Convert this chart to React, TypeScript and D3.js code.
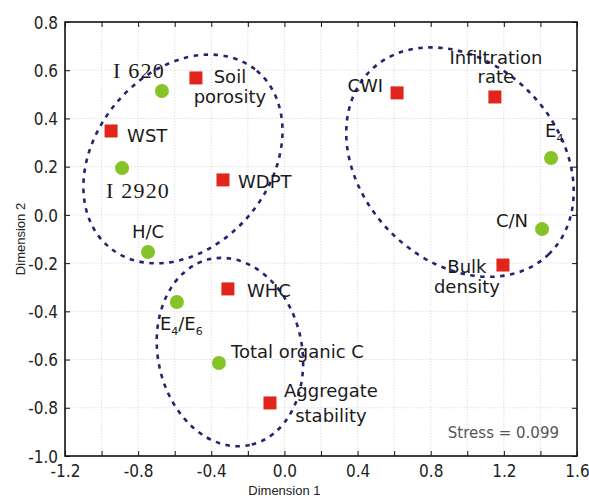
import React, { useEffect, useRef } from "react";
import * as d3 from "d3";

// MDS configuration of soil properties (Dimension 1 vs Dimension 2)
const variables = [
  "I 620", "Soil porosity", "WST", "I 2920", "WDPT", "H/C", "WHC", "E4/E6",
  "Total organic C", "Aggregate stability", "CWI", "Infiltration rate", "E4", "C/N", "Bulk density",
];
const dim1 = [-0.67, -0.484, -0.948, -0.888, -0.336, -0.746, -0.309, -0.588, -0.358, -0.079, 0.616, 1.151, 1.458, 1.409, 1.195];
const dim2 = [0.514, 0.568, 0.348, 0.194, 0.145, -0.154, -0.307, -0.361, -0.614, -0.78, 0.506, 0.489, 0.236, -0.059, -0.208];
const markerType = [
  "circle", "square", "square", "circle", "square", "circle", "square", "circle",
  "circle", "square", "square", "square", "circle", "circle", "square",
];

const xTicks = [-1.2, -1.0, -0.8, -0.6, -0.4, -0.2, 0, 0.2, 0.4, 0.6, 0.8, 1.0, 1.2, 1.4, 1.6];
const xTickLabels = [-1.2, -0.8, -0.4, 0, 0.4, 0.8, 1.2, 1.6];
const yTicks = [-1.0, -0.8, -0.6, -0.4, -0.2, 0, 0.2, 0.4, 0.6, 0.8];

// groups (ellipses): centre in data units, radii in dimension-1 units, rotation in degrees
const groupCx = [-0.555, 0.96, -0.298];
const groupCy = [0.232, 0.219, -0.569];
const groupRx = [0.629, 0.7, 0.52];
const groupRy = [0.476, 0.539, 0.394];
const groupRot = [-50, 46, 78];

const stressText = "Stress = 0.099";

// label placement relative to the marker (px)
const labelPlace: { [k: string]: { anchor: string; dx: number; dy: number; lh?: number; serif?: boolean } } = {
  "I 620": { anchor: "end", dx: 3, dy: -13, serif: true },
  "Soil porosity": { anchor: "middle", dx: 34, dy: 5, lh: 20 },
  WST: { anchor: "start", dx: 16, dy: 11 },
  "I 2920": { anchor: "middle", dx: 16, dy: 30, serif: true },
  WDPT: { anchor: "start", dx: 15, dy: 8 },
  "H/C": { anchor: "middle", dx: 0, dy: -14 },
  WHC: { anchor: "start", dx: 19, dy: 8 },
  "E4/E6": { anchor: "start", dx: -17, dy: 28 },
  "Total organic C": { anchor: "start", dx: 12, dy: -5 },
  "Aggregate stability": { anchor: "middle", dx: 61, dy: -6, lh: 25 },
  CWI: { anchor: "end", dx: -14, dy: -1 },
  "Infiltration rate": { anchor: "middle", dx: 1, dy: -33, lh: 19 },
  E4: { anchor: "start", dx: -6, dy: -21 },
  "C/N": { anchor: "end", dx: -14, dy: -2 },
  "Bulk density": { anchor: "middle", dx: -36, dy: 8, lh: 20 },
};

const W = 589;
const H = 504;
const margin = { top: 22, right: 12, bottom: 48, left: 65 };
const tickFont = "'Liberation Sans Narrow', 'DejaVu Sans Condensed', 'Liberation Sans', sans-serif";
const labelFont = "'DejaVu Sans', Verdana, sans-serif";

const fmt = (v: number) => d3.format(".1f")(v).replace("\u2212", "-");

export default function App() {
  const ref = useRef<SVGSVGElement>(null);

  useEffect(() => {
    const svg = d3.select(ref.current);
    svg.selectAll("*").remove();

    const width = W - margin.left - margin.right;
    const height = H - margin.top - margin.bottom;

    const x = d3.scaleLinear().domain([-1.2, 1.6]).range([0, width]);
    const y = d3.scaleLinear().domain([-1.0, 0.8]).range([height, 0]);

    const g = svg.append("g").attr("transform", "translate(" + margin.left + "," + margin.top + ")");

    // grid
    g.selectAll(".gx")
      .data(xTicks.slice(1, -1))
      .enter()
      .append("line")
      .attr("x1", d => x(d))
      .attr("x2", d => x(d))
      .attr("y1", 0)
      .attr("y2", height)
      .attr("stroke", "#d8d8d8")
      .attr("stroke-width", 0.8)
      .attr("stroke-dasharray", "1.5,1.5");
    g.selectAll(".gy")
      .data(yTicks.slice(1, -1))
      .enter()
      .append("line")
      .attr("y1", d => y(d))
      .attr("y2", d => y(d))
      .attr("x1", 0)
      .attr("x2", width)
      .attr("stroke", "#d8d8d8")
      .attr("stroke-width", 0.8)
      .attr("stroke-dasharray", "1.5,1.5");

    // axes, ticks pointing inwards on all four sides
    const bottom = g
      .append("g")
      .attr("transform", "translate(0," + height + ")")
      .call(d3.axisBottom(x).tickValues(xTicks).tickSize(-5).tickFormat(d => (xTickLabels.some(v => Math.abs(v - +d) < 1e-9) ? fmt(+d) : "")).tickPadding(9));
    const left = g
      .append("g")
      .call(d3.axisLeft(y).tickValues(yTicks).tickSize(-5).tickFormat(d => fmt(+d)).tickPadding(7));
    const top = g.append("g").call(d3.axisTop(x).tickValues(xTicks).tickSize(-5).tickFormat(() => ""));
    const right = g
      .append("g")
      .attr("transform", "translate(" + width + ",0)")
      .call(d3.axisRight(y).tickValues(yTicks).tickSize(-5).tickFormat(() => ""));
    [bottom, left, top, right].forEach(a => {
      a.select(".domain").remove();
      a.selectAll("line").attr("stroke", "#111").attr("stroke-width", 1);
      a.selectAll("text").attr("font-family", tickFont).attr("font-size", 17).attr("fill", "#222");
    });
    bottom.selectAll("text").attr("dy", "0.71em");
    left.selectAll("text").attr("dy", "0.36em");

    g.append("rect")
      .attr("width", width)
      .attr("height", height)
      .attr("fill", "none")
      .attr("stroke", "#111")
      .attr("stroke-width", 1.6);

    // axis titles
    svg
      .append("text")
      .attr("x", margin.left + x(0.0))
      .attr("y", 495)
      .attr("text-anchor", "middle")
      .attr("font-family", "'Liberation Sans', Arial, sans-serif")
      .attr("font-size", 13)
      .attr("fill", "#222")
      .text("Dimension 1");
    svg
      .append("text")
      .attr("transform", "translate(25," + (margin.top + y(-0.1)) + ") rotate(-90)")
      .attr("text-anchor", "middle")
      .attr("font-family", "'Liberation Sans', Arial, sans-serif")
      .attr("font-size", 13)
      .attr("fill", "#222")
      .text("Dimension 2");

    // group ellipses
    const k = x(1) - x(0);
    groupCx.forEach((cx, i) => {
      g.append("ellipse")
        .attr("transform", "translate(" + x(cx) + "," + y(groupCy[i]) + ") rotate(" + groupRot[i] + ")")
        .attr("rx", groupRx[i] * k)
        .attr("ry", groupRy[i] * k)
        .attr("fill", "none")
        .attr("stroke", "#26246e")
        .attr("stroke-width", 2.6)
        .attr("stroke-dasharray", "4.5,5.5");
    });

    const pts = variables.map((name, i) => ({ name, d1: dim1[i], d2: dim2[i], type: markerType[i] }));

    // markers
    g.selectAll(".sq")
      .data(pts.filter(p => p.type === "square"))
      .enter()
      .append("rect")
      .attr("x", d => x(d.d1) - 6.5)
      .attr("y", d => y(d.d2) - 6.5)
      .attr("width", 13)
      .attr("height", 13)
      .attr("fill", "#e1251b");
    g.selectAll(".ci")
      .data(pts.filter(p => p.type === "circle"))
      .enter()
      .append("circle")
      .attr("cx", d => x(d.d1))
      .attr("cy", d => y(d.d2))
      .attr("r", 7)
      .attr("fill", "#86c326");

    // labels
    pts.forEach(p => {
      const lp = labelPlace[p.name];
      const t = g
        .append("text")
        .attr("x", x(p.d1) + lp.dx)
        .attr("y", y(p.d2) + lp.dy)
        .attr("text-anchor", lp.anchor)
        .attr("font-family", lp.serif ? "'Liberation Serif', 'Times New Roman', serif" : labelFont)
        .attr("font-size", lp.serif ? 22 : 18)
        .attr("letter-spacing", lp.serif ? 1.2 : 0)
        .attr("fill", "#1a1a1a");
      if (p.name === "E4/E6" || p.name === "E4") {
        const parts = p.name === "E4" ? [["E", 0], ["4", 1]] : [["E", 0], ["4", 1], ["/", 0], ["E", 0], ["6", 1]];
        let shifted = false;
        parts.forEach(([s, sub]) => {
          const ts = t.append("tspan").text(s as string);
          if (sub) {
            ts.attr("font-size", 11).attr("dy", 5);
            shifted = true;
          } else if (shifted) {
            ts.attr("dy", -5);
            shifted = false;
          }
        });
      } else if (lp.lh) {
        const words = p.name.split(" ");
        words.forEach((w, j) => {
          t.append("tspan")
            .attr("x", x(p.d1) + lp.dx)
            .attr("dy", j === 0 ? 0 : lp.lh)
            .text(w);
        });
      } else {
        t.text(p.name);
      }
    });

    // stress value
    g.append("text")
      .attr("x", width - 18)
      .attr("y", 438 - margin.top)
      .attr("text-anchor", "end")
      .attr("font-family", labelFont)
      .attr("font-size", 15)
      .attr("fill", "#555")
      .text(stressText);
  }, []);

  return (
    <div style={{ position: "fixed", left: 0, top: 0 }}>
      <svg ref={ref} width={W} height={H} style={{ display: "block", background: "#fff" }} />
    </div>
  );
}
